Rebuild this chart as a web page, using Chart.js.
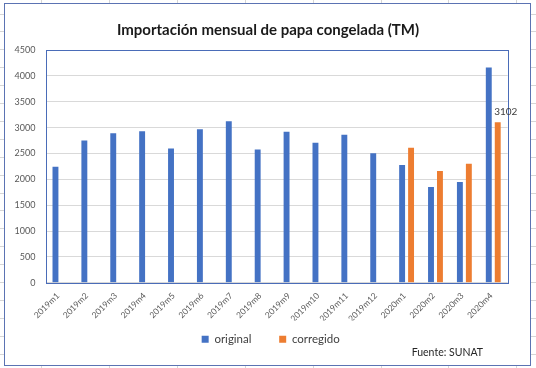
<!DOCTYPE html>
<html>
<head>
<meta charset="utf-8">
<script src="https://cdn.jsdelivr.net/npm/chart.js@4/dist/chart.umd.min.js"></script>
<style>
html,body{margin:0;padding:0;background:#fff;}
#wrap{width:536px;height:368px;position:relative;}
</style>
</head>
<body>
<div id="wrap"><canvas id="c" width="536" height="368"></canvas></div>
<script>
const categories = ['2019m1','2019m2','2019m3','2019m4','2019m5','2019m6','2019m7','2019m8','2019m9','2019m10','2019m11','2019m12','2020m1','2020m2','2020m3','2020m4'];
const original = [2242,2753,2889,2928,2597,2967,3122,2578,2920,2707,2862,2506,2279,1852,1949,4164];
const corregido = [null,null,null,null,null,null,null,null,null,null,null,null,2609,2163,2299,3102];
const seriesNames = ['original','corregido'];
const titleText = 'Importación mensual de papa congelada (TM)';
const sourceText = 'Fuente: SUNAT';
const labeledPoint = {dataset: 1, index: 15};

const FONT = 'Lato, "Open Sans", sans-serif';

const sheetBackground = {
  id: 'sheetBackground',
  beforeDraw(chart) {
    const ctx = chart.ctx;
    const W = chart.width, H = chart.height;
    ctx.save();
    ctx.fillStyle = '#ffffff';
    ctx.fillRect(0, 0, W, H);
    ctx.strokeStyle = '#d6d6d6';
    ctx.lineWidth = 1;
    ctx.beginPath();
    for (let y = 13.5; y < H; y += 17.9) { ctx.moveTo(0, Math.round(y) + 0.5); ctx.lineTo(W, Math.round(y) + 0.5); }
    for (let x = 41; x < W; x += 67.9) { ctx.moveTo(Math.round(x) + 0.5, 0); ctx.lineTo(Math.round(x) + 0.5, H); }
    ctx.stroke();
    ctx.fillStyle = '#ffffff';
    ctx.fillRect(4, 3, 526, 363);
    ctx.strokeStyle = '#5b73b3';
    ctx.strokeRect(4.5, 3.5, 526, 362);
    ctx.restore();
  }
};

const plotFrame = {
  id: 'plotFrame',
  afterDatasetsDraw(chart) {
    const {ctx, chartArea: a} = chart;
    ctx.save();
    ctx.strokeStyle = '#4a6cb8';
    ctx.lineWidth = 1;
    ctx.strokeRect(Math.round(a.left) + 0.5, Math.round(a.top) + 0.5, Math.round(a.right - a.left), Math.round(a.bottom - a.top));
    const meta = chart.getDatasetMeta(labeledPoint.dataset);
    const el = meta.data[labeledPoint.index];
    const v = chart.data.datasets[labeledPoint.dataset].data[labeledPoint.index];
    ctx.fillStyle = '#404040';
    ctx.font = '10px ' + FONT;
    ctx.textAlign = 'center';
    ctx.textBaseline = 'middle';
    ctx.fillText(String(v), el.x + 8, el.y - 11);
    ctx.font = '10.5px ' + FONT;
    ctx.textAlign = 'right';
    ctx.fillStyle = '#262626';
    ctx.fillText(sourceText, 483, 353);
    ctx.restore();
  }
};

new Chart(document.getElementById('c'), {
  type: 'bar',
  data: {
    labels: categories,
    datasets: [
      {label: seriesNames[0], data: original, backgroundColor: '#4472C4', categoryPercentage: 0.62, barPercentage: 0.66},
      {label: seriesNames[1], data: corregido, backgroundColor: '#ED7D31', categoryPercentage: 0.62, barPercentage: 0.66}
    ]
  },
  options: {
    responsive: false,
    animation: false,
    devicePixelRatio: 1,
    layout: {padding: {left: 14, right: 14, top: 0, bottom: 13}},
    plugins: {
      title: {display: true, text: titleText, color: '#1a1a1a', font: {family: FONT, size: 15, weight: 'bold'}, padding: {top: 21, bottom: 11}},
      legend: {
        display: true, position: 'bottom', fullSize: false,
        labels: {
          boxWidth: 7, boxHeight: 7, padding: 13, color: '#404040', font: {family: FONT, size: 11.5},
          generateLabels(chart) {
            const items = Chart.defaults.plugins.legend.labels.generateLabels(chart);
            items.forEach((it, i) => { it.text = it.text + (i < items.length - 1 ? '     ' : '    '); });
            return items;
          }
        }
      },
      tooltip: {enabled: false}
    },
    scales: {
      x: {
        grid: {display: false, drawTicks: false},
        border: {display: false},
        ticks: {color: '#595959', font: {family: FONT, size: 8.5}, minRotation: 45, maxRotation: 45, padding: 8, labelOffset: -2, autoSkip: false},
        afterFit(s) { s.height = 37.7; }
      },
      y: {
        min: 0, max: 4500,
        grid: {color: '#d9d9d9', drawTicks: false},
        border: {display: false},
        ticks: {stepSize: 500, color: '#595959', font: {family: FONT, size: 9}, padding: 10, callback: (v) => String(v)},
        afterFit(s) { s.width = 31.5; }
      },
      yR: {
        position: 'right', min: 0, max: 4500,
        grid: {display: false, drawTicks: false},
        border: {display: false},
        ticks: {display: false},
        afterFit(s) { s.width = 14.3; }
      }
    }
  },
  plugins: [sheetBackground, plotFrame]
});
</script>
</body>
</html>
